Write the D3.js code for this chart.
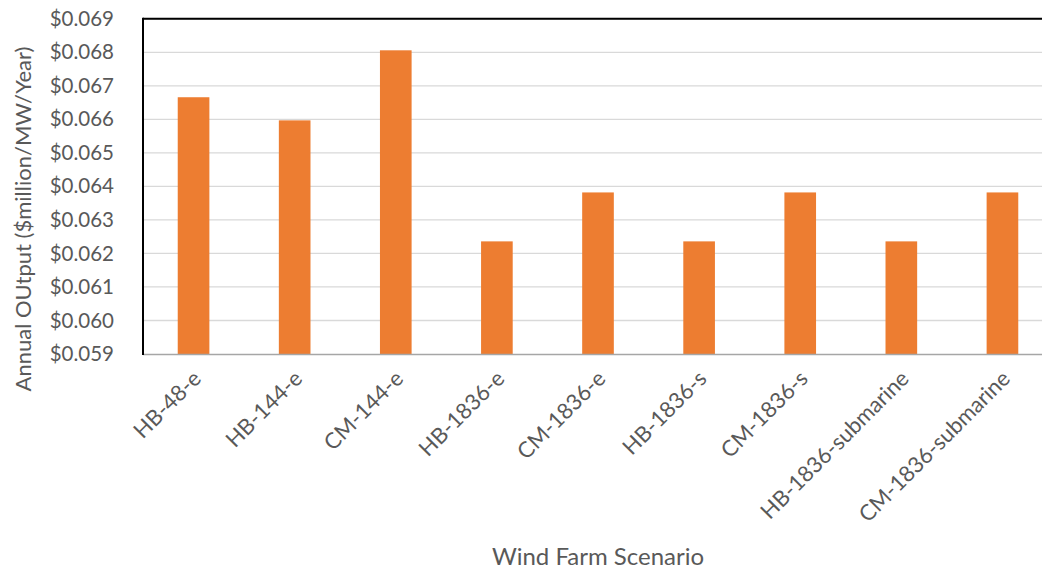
<!DOCTYPE html>
<html><head><meta charset="utf-8">
<script src="https://cdn.jsdelivr.net/npm/d3@7"></script>
<style>
body{margin:0;background:#fff;}
text{font-family:Lato,"Open Sans",sans-serif;fill:#595959;}
</style></head>
<body><svg id="c" width="1042" height="571"></svg>
<script>
const categories = ["HB-48-e","HB-144-e","CM-144-e","HB-1836-e","CM-1836-e","HB-1836-s","CM-1836-s","HB-1836-submarine","CM-1836-submarine"];
const values = [0.06666,0.06597,0.06806,0.06236,0.06382,0.06236,0.06382,0.06236,0.06382];
const yTicks = [0.059,0.060,0.061,0.062,0.063,0.064,0.065,0.066,0.067,0.068,0.069];
const yTitle = "Annual OUtput ($million/MW/Year)";
const xTitle = "Wind Farm Scenario";

const svg = d3.select("#c");
const L = 143, R = 1053, T = 18.8, B = 354;
const x = d3.scaleBand().domain(categories).range([L, R]).paddingInner(0.687).paddingOuter(0.3435);
const y = d3.scaleLinear().domain([0.059, 0.069]).range([B, T]);

// gridlines
svg.append("g").selectAll("line").data(yTicks.slice(1)).join("line")
  .attr("x1", L).attr("x2", 1042).attr("y1", d => y(d)).attr("y2", d => y(d))
  .attr("stroke", "#D9D9D9").attr("stroke-width", 1.3);

// bars
svg.append("g").selectAll("rect").data(values).join("rect")
  .attr("x", (d, i) => x(categories[i])).attr("width", x.bandwidth())
  .attr("y", d => y(d)).attr("height", d => B - y(d))
  .attr("fill", "#ED7D31");

// frame lines
svg.append("line").attr("x1", L).attr("x2", 1042).attr("y1", T).attr("y2", T).attr("stroke", "#000").attr("stroke-width", 2);
svg.append("line").attr("x1", L).attr("x2", 1042).attr("y1", B + 0.5).attr("y2", B + 0.5).attr("stroke", "#A6A6A6").attr("stroke-width", 1.5);
svg.append("line").attr("x1", L).attr("x2", L).attr("y1", T - 1).attr("y2", B + 1).attr("stroke", "#000").attr("stroke-width", 2);

// y axis labels
const yAxis = d3.axisLeft(y).tickValues(yTicks).tickFormat(d => "$" + d3.format(".3f")(d)).tickSize(0).tickPadding(29);
const gy = svg.append("g").attr("transform", `translate(${L},0)`).call(yAxis);
gy.select(".domain").remove();
gy.selectAll("text").attr("font-size", 20.5).attr("fill", "#595959").style("font-family", "Lato,'Open Sans',sans-serif");

// x axis labels
const xAxis = d3.axisBottom(x).tickSize(0).tickPadding(0);
const gx = svg.append("g").attr("transform", `translate(0,${B})`).call(xAxis);
gx.select(".domain").remove();
gx.selectAll("text").attr("font-size", 22).attr("fill", "#595959").style("font-family", "Lato,'Open Sans',sans-serif")
  .attr("text-anchor", "end").attr("dy", 0).attr("y", 0)
  .attr("transform", "translate(9,26) rotate(-45)");

// titles
svg.append("text").attr("transform", "translate(31,219) rotate(-90)").attr("text-anchor", "middle")
  .attr("font-size", 22).text(yTitle);
svg.append("text").attr("x", 598).attr("y", 565).attr("text-anchor", "middle")
  .attr("font-size", 24).text(xTitle);
</script></body></html>
